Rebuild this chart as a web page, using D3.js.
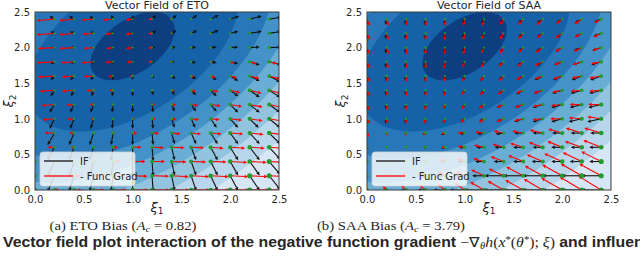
<!DOCTYPE html>
<html>
<head>
<meta charset="utf-8">
<script src="https://cdn.jsdelivr.net/npm/d3@7"></script>
<style>
body { margin: 0; background: #fff; }
svg { display: block; }
text { font-family: "DejaVu Sans", sans-serif; fill: #262626; }
</style>
</head>
<body>
<svg id="chart" width="640" height="265"></svg>
<script>
// grid of the quiver (rows listed from top to bottom)
var xValues = [0, 0.2, 0.4, 0.6, 0.8, 1.0, 1.2, 1.4, 1.6, 1.8, 2.0, 2.2, 2.4];
var yValues = [2.4, 2.2, 2.0, 1.8, 1.6, 1.4, 1.2, 1.0, 0.8, 0.6, 0.4, 0.2, 0.0];
var tickValues = [0, 0.5, 1.0, 1.5, 2.0, 2.5];

// ETO: - function gradient (u, v)
var etoGradU = [
  [-19,-18,-15,-12,-10,-7,-4,-2,-1,-1,-1,-1,-1],
  [-19,-18,-15,-11,-8,-7,-4,-1.5,-1,-1,-0.5,-0.5,-0.5],
  [-19,-17,-15,-10,-7,-7,-4,-1,-1,-1,0.5,0.5,1],
  [-19,-18,-13,-12,-8,-6,-4,-2,0.5,2,4,7,8],
  [-18,-17,-12,-10,-5,-3,-1,1,3,5,7,10,11],
  [-16,-15,-12,-7,-4,-1,1,3,5,8,10,12,12],
  [-14,-13,-8,-4,-1,1,3,5,7,10,12,13,13],
  [-13,-12,-7,-3,0.5,2,4,5,8,9,12,13,14],
  [-11,-10,-5,-1,2,5,7,9,10,11,13,14,14],
  [-8,-7,-3,0.5,5,9,12,13,13,13,15,15,15],
  [-4,-2,2,4,7,13,13,15,15,16,17,17,17],
  [0,3,6,9,12,15,17,17,18,18,18,18,18],
  [2,5,8,11,14,16,18,18,19,19,19,19,19]
];
var etoGradV = [
  [-1.5,-1.5,-1.5,-1,-1,-1,-0.5,0,0,0,0,0,0],
  [-1.5,-1.5,-1.5,-1,-1,-1,-0.5,0,-0.5,-0.5,-0.5,-0.5,-0.5],
  [-1,-1,-1,-1,-1,-1,-0.5,0,-1,-1,-1,-1,-1],
  [-1,-1,-1,-1,-0.5,-0.5,0,0,-0.5,-1,-1.5,-2,-2],
  [-1,-1,-1,-0.5,-0.5,0,0,-0.5,-1,-1.5,-2,-2.5,-3],
  [-1,-1,-1,-0.5,0,0,0,-0.5,-1,-1.5,-2.5,-3,-3],
  [-1,-1,-0.5,0,0,0,0,-0.5,-1,-1.5,-2,-2.5,-3],
  [-1,-1,-0.5,0,0,0,0,-0.5,-1,-1,-1.5,-2,-2.5],
  [0,0,0,0,0,-0.5,-0.5,-1,-1,-1,-1,-1.5,-1.5],
  [0,0,0,0,0,0,-0.5,-0.5,-0.5,-1,-1,-1,-1],
  [0,0,0,0,0,0,0,-0.5,-0.5,-0.5,-1,-1,-1],
  [0,0,0,0,0,-0.5,-0.5,-1,-1,-1,-1,-1,-1],
  [0,0,0,0,0,0,0,0,0,0,0,0,0]
];
// ETO: influence function (u, v)
var etoIfU = [
  [-6,-5,-5,-4,-2,0,4,5,6,8,9,12,12],
  [-5,-4,-4,-3,-1,1,4,5,6,8,8,12,12],
  [-4,-3,-3,-2,-1,1,3,4,5,6,8,10,12],
  [-4,-4,-3,-2,-1,0,2,3,5,6,8,10,12],
  [-4,-4,-4,-3,-1,0,2,4,5,6,8,10,11],
  [-5,-4,-3,-2,-1,0,1,3,5,6,8,10,11],
  [-6,-5,-4,-3,-1,0,1,3,5,6,8,10,11],
  [-6,-5,-4,-3,-1,0,1,3,4,6,8,9,11],
  [-7,-7,-5,-4,-2,0,1,3,5,7,8,10,11],
  [-7,-7,-5,-4,-2,0,1,3,5,7,8,10,11],
  [-7,-7,-5,-4,-2,0,1,3,5,7,8,10,11],
  [-7,-7,-5,-4,-2,0,1,3,5,7,8,10,11],
  [-7,-7,-5,-4,-2,0,1,3,5,7,8,10,11]
];
var etoIfV = [
  [3,3,3,3,4,4,4,4,4,4,3,3,2],
  [2,2,2,2,2,2,3,3,3,3,2,2,2],
  [0,0,0,0,0,0,0.5,0.5,0.5,0.5,0.5,0.5,0.5],
  [-2,-2,-2,-2,-2,-1,-0.5,-0.5,-1,-1,-2,-3,-3],
  [-4,-4,-4,-4,-4,-4,-2,-3,-3,-4,-5,-5,-6],
  [-6,-6,-6,-6,-6,-6,-5,-5,-5,-6,-6,-7,-7],
  [-8,-8,-8,-8,-8,-8,-8,-7,-7,-7,-8,-8,-8],
  [-10,-10,-10,-10,-10,-10,-10,-9,-9,-9,-9,-9,-9],
  [-12,-12,-12,-12,-12,-12,-12,-11,-11,-11,-11,-11,-11],
  [-13,-13,-13,-13,-14,-14,-14,-13,-13,-13,-13,-13,-12],
  [-15,-15,-15,-15,-15,-15,-15,-14,-14,-14,-14,-14,-13],
  [-16,-16,-16,-16,-16,-16,-16,-15,-15,-15,-15,-15,-14],
  [-17,-17,-17,-17,-17,-17,-17,-16,-16,-16,-16,-16,-15]
];
// SAA: - function gradient (u, v)
var saaGradU = [
  [3,2,1,0.5,0,-1,-2,-4,-5,-6,-6,-7,-7],
  [3,2,1,0,-0.5,-1,-3,-4,-5,-6,-7,-7,-8],
  [3,2,1,0,-0.5,-1,-3,-4,-5,-7,-7,-8,-9],
  [3,1.5,1,0,-1,-2,-3,-5,-6,-8,-8,-9,-10],
  [3,1,0.5,0,-1,-2,-4,-5,-7,-8,-9,-10,-12],
  [3,1,0.5,0,-1,-3,-4,-6,-7,-9,-10,-11,-12],
  [3,1,0,-0.5,-2,-3,-5,-7,-8,-10,-11,-12,-13],
  [3,1,0,-1,-2,-4,-5,-7,-9,-10,-12,-13,-14],
  [2,0.5,-1,-3,-4,-7,-9,-10,-11,-13,-14,-16,-17],
  [1,0,-1,-2,-4,-7,-10,-11,-13,-14,-15,-17,-18],
  [0,-1,-2,-3,-5,-8,-11,-13,-15,-16,-18,-19,-20],
  [-1,-2,-3,-5,-7,-9,-13,-15,-17,-18,-20,-21,-22],
  [-2,-4,-5,-6,-8,-10,-14,-16,-18,-19,-21,-22,-23]
];
var saaGradV = [
  [-7,-7,-7,-7,-7,-7,-7,-6,-6,-6,-5,-5,-4],
  [-7,-7,-7,-7,-7,-7,-6,-6,-6,-5,-5,-4,-4],
  [-7,-7,-7,-7,-7,-7,-6,-6,-5,-5,-4,-4,-3],
  [-7,-7,-7,-7,-7,-6,-6,-5,-5,-4,-3,-3,-2],
  [-6,-6,-6,-6,-6,-6,-5,-5,-4,-3,-3,-2,-2],
  [-6,-6,-6,-6,-6,-5,-5,-4,-3,-3,-2,-1,-1],
  [-6,-6,-6,-6,-5,-5,-4,-3,-3,-2,-1,0,0],
  [-5,-5,-5,-5,-5,-4,-4,-3,-2,-1,0,1,2],
  [-4,-3,-3,-2,-1,0,1,2,2,3,4,5,5],
  [-2,-1,0,0,0,1,2,3,4,5,6,6,7],
  [0,1,1,2,2,3,3,5,6,7,8,9,10],
  [1,2,3,3,4,4,6,7,9,10,11,12,12],
  [2,4,5,5,6,7,8,9,10,11,12,13,14]
];
// SAA: influence function (u, v)
var saaIfU = [
  [0,-1,-1,-1,-1,-2,-3,-4,-5,-6,-6,-7,-7],
  [0,-1,-1,-1,-1,-2,-3,-4,-5,-6,-6,-7,-8],
  [0,-1,-1,-1,-1,-2,-3,-4,-5,-7,-7,-8,-9],
  [0,-1,-1,-1,-1,-2,-3,-5,-6,-7,-8,-9,-10],
  [0,-1,-1,-1,-1,-2,-4,-5,-7,-8,-9,-10,-11],
  [0,-1,-1,-1,-2,-3,-4,-6,-7,-9,-10,-11,-12],
  [0,-1,-1,-1,-2,-3,-5,-7,-8,-10,-11,-12,-13],
  [0,-1,-1,-1,-2,-4,-5,-7,-9,-10,-11,-13,-14],
  [0,0,-1,-3,-4,-5,-7,-8,-9,-10,-10,-11,-11],
  [0,0,-1,-2,-4,-6,-8,-9,-10,-10,-11,-11,-12],
  [0,-1,-2,-3,-5,-7,-9,-10,-10,-11,-11,-12,-12],
  [-1,-2,-3,-5,-8,-10,-12,-19,-20,-20,-20,-20,-20],
  [-2,-3,-5,-8,-12,-15,-20,-20,-20,-20,-20,-20,-20]
];
var saaIfV = [
  [-6,-6,-6,-6,-6,-5,-5,-5,-4,-4,-4,-4,-3],
  [-6,-6,-6,-6,-6,-5,-5,-5,-4,-4,-4,-4,-3],
  [-6,-6,-6,-6,-6,-5,-5,-5,-4,-4,-4,-3,-3],
  [-6,-6,-6,-6,-6,-5,-5,-4,-4,-4,-3,-3,-3],
  [-6,-5,-5,-5,-5,-5,-5,-4,-4,-4,-4,-4,-4],
  [-6,-5,-5,-5,-5,-4,-4,-4,-4,-3,-3,-3,-3],
  [-6,-5,-5,-5,-5,-4,-4,-3,-3,-3,-3,-3,-3],
  [-5,-5,-5,-5,-5,-4,-3,-3,-3,-3,-3,-3,-3],
  [-3,-2,-2,-2,-2,-1,-1,-1,0,0,0,0,0],
  [-1,-1,-1,-1,-1,0,0,0,0,0,0,0,0],
  [0,0,0,0,0,0,0,0,0,0,0,0,0],
  [0,0,0,0,0,0,0,0,0,0,0,0,0],
  [0,0,0,0,0,0,0,0,0,0,0,0,0]
];

// background contour: nested ellipses (data units)
var contourCenter = [1.0, 2.02];
var contourAxisA = [0.405, 0.365];
var contourAxisB = [0.148, -0.311];
var contourLevels = [1.0, 2.5, 3.3, 4.0, 4.7, 5.4, 6.2];
var contourColors = ["#0c3e80", "#1662a8", "#2878b9", "#4492c8", "#6aaed6", "#92c4df", "#b9d7ec", "#d6e6f4"];

var titles = ["Vector Field of ETO", "Vector Field of SAA"];
var captionTags = ["(a) ETO Bias (", "(b) SAA Bias ("];
var captionValues = ["0.82", "3.79"];
var legendLabels = ["IF", "- Func Grad"];

var svg = d3.select("#chart");
var W = 244, H = 178, plotTop = 12;
var panelLeft = [35, 367];
var x = d3.scaleLinear().domain([0, 2.5]).range([0, W]);
var y = d3.scaleLinear().domain([0, 2.5]).range([H, 0]);

// level index of a point inside the ellipse family
function bandOf(px, py) {
  var dx = px - contourCenter[0], dy = py - contourCenter[1];
  var a = contourAxisA, b = contourAxisB;
  var det = a[0] * b[1] - b[0] * a[1];
  var al = (dx * b[1] - b[0] * dy) / det;
  var be = (a[0] * dy - a[1] * dx) / det;
  var k = Math.sqrt(al * al + be * be);
  return contourLevels.filter(function(l){ return l < k; }).length;
}

function ellipsePoints(k) {
  return d3.range(0, 361, 3).map(function(deg){
    var t = deg * Math.PI / 180;
    return [contourCenter[0] + k * (Math.cos(t) * contourAxisA[0] + Math.sin(t) * contourAxisB[0]),
            contourCenter[1] + k * (Math.cos(t) * contourAxisA[1] + Math.sin(t) * contourAxisB[1])];
  });
}
var line = d3.line().x(function(d){ return x(d[0]); }).y(function(d){ return y(d[1]); });

function toVectors(U, V) {
  var out = [];
  yValues.forEach(function(yy, r){
    xValues.forEach(function(xx, c){
      out.push({x: xx, y: yy, u: U[r][c], v: V[r][c]});
    });
  });
  return out;
}

function arrowParts(d) {
  var x0 = x(d.x), y0 = y(d.y);
  var dx = d.u, dy = -d.v;
  var len = Math.sqrt(dx * dx + dy * dy);
  if (len < 0.4) return null;
  var ux = dx / len, uy = dy / len;
  var hl = Math.min(3.6, len), hw = 1.7;
  var bx = x0 + dx - ux * hl, by = y0 + dy - uy * hl;
  return {x0: x0, y0: y0, bx: bx, by: by,
    head: [[x0 + dx, y0 + dy], [bx - uy * hw, by + ux * hw], [bx + uy * hw, by - ux * hw]]};
}

function drawQuiver(g, vecs, color) {
  var parts = vecs.map(arrowParts).filter(function(p){ return p; });
  var q = g.append("g");
  q.selectAll("line").data(parts).join("line")
    .attr("x1", function(p){ return p.x0; }).attr("y1", function(p){ return p.y0; })
    .attr("x2", function(p){ return p.bx; }).attr("y2", function(p){ return p.by; })
    .attr("stroke", color).attr("stroke-width", 1.1);
  q.selectAll("path").data(parts).join("path")
    .attr("d", function(p){ return "M" + p.head.join("L") + "Z"; })
    .attr("fill", color);
}

var fields = [
  {grad: toVectors(etoGradU, etoGradV), inf: toVectors(etoIfU, etoIfV)},
  {grad: toVectors(saaGradU, saaGradV), inf: toVectors(saaIfU, saaIfV)}
];

fields.forEach(function(f, p){
  var g = svg.append("g").attr("transform", "translate(" + panelLeft[p] + "," + plotTop + ")");
  var clipId = "clip" + p;
  g.append("clipPath").attr("id", clipId).append("rect").attr("width", W).attr("height", H);
  var body = g.append("g").attr("clip-path", "url(#" + clipId + ")");

  body.append("rect").attr("width", W).attr("height", H)
    .attr("fill", contourColors[contourLevels.length]);
  body.selectAll("path.band").data(contourLevels.slice().reverse()).join("path")
    .attr("class", "band")
    .attr("d", function(k){ return line(ellipsePoints(k)) + "Z"; })
    .attr("fill", function(k, i){ return contourColors[contourLevels.length - 1 - i]; });

  drawQuiver(body, f.inf, "#111");
  drawQuiver(body, f.grad, "#f00");

  body.selectAll("circle").data(f.grad).join("circle")
    .attr("cx", function(d){ return x(d.x); })
    .attr("cy", function(d){ return y(d.y); })
    .attr("r", function(d){ return 1.0 + 0.22 * bandOf(d.x, d.y); })
    .attr("fill", "#229a2e");

  // legend
  var lg = g.append("g").attr("transform", "translate(5,140)");
  lg.append("rect").attr("width", 95).attr("height", 34).attr("rx", 3)
    .attr("fill", "#fff").attr("fill-opacity", 0.8).attr("stroke", "#d0d0d0").attr("stroke-width", 0.8);
  lg.selectAll("line").data(legendLabels).join("line")
    .attr("x1", 4).attr("x2", 33)
    .attr("y1", function(d, i){ return 9 + i * 15; }).attr("y2", function(d, i){ return 9 + i * 15; })
    .attr("stroke", function(d, i){ return i ? "#f00" : "#111"; }).attr("stroke-width", 1.3);
  lg.selectAll("text").data(legendLabels).join("text")
    .attr("x", 40).attr("y", function(d, i){ return 12.5 + i * 15; })
    .attr("font-size", 10).text(function(d){ return d; });

  g.append("rect").attr("width", W).attr("height", H)
    .attr("fill", "none").attr("stroke", "#3a3a3a").attr("stroke-width", 1);

  var xa = g.append("g").attr("transform", "translate(0," + H + ")")
    .call(d3.axisBottom(x).tickValues(tickValues).tickFormat(d3.format(".1f")).tickSize(0).tickPadding(6));
  var ya = g.append("g")
    .call(d3.axisLeft(y).tickValues(tickValues).tickFormat(d3.format(".1f")).tickSize(0).tickPadding(5));
  [xa, ya].forEach(function(a){
    a.select(".domain").remove();
    a.selectAll("text").attr("font-size", 10).attr("fill", "#262626").style("font-family", "DejaVu Sans");
  });

  g.append("text").attr("x", W / 2).attr("y", -3.5).attr("text-anchor", "middle")
    .attr("font-size", 11).text(titles[p]);

  var xl = g.append("text").attr("x", W / 2).attr("y", H + 21.5).attr("text-anchor", "middle").attr("font-size", 13);
  xl.append("tspan").attr("font-style", "italic").text("ξ");
  xl.append("tspan").attr("font-size", 9).attr("dy", 2.5).text("1");

  var yl = g.append("text").attr("transform", "translate(-22," + (H / 2) + ") rotate(-90)")
    .attr("text-anchor", "middle").attr("font-size", 13);
  yl.append("tspan").attr("font-style", "italic").text("ξ");
  yl.append("tspan").attr("font-size", 9).attr("dy", 2.5).text("2");

  var capX = panelLeft[p] + [88, 24][p];
  var cap = svg.append("text").attr("transform", "translate(" + capX + ",229.5) scale(1.18,1)")
    .attr("text-anchor", "middle")
    .style("font-family", "'Liberation Serif', serif").attr("font-size", 12.5).attr("fill", "#000");
  cap.append("tspan").text(captionTags[p]);
  cap.append("tspan").attr("font-style", "italic").text("A");
  cap.append("tspan").attr("font-style", "italic").attr("font-size", 9).attr("dy", 2).text("c");
  cap.append("tspan").attr("dy", -2).text(" = " + captionValues[p] + ")");
});

var foot = svg.append("text").attr("transform", "translate(3,247) scale(1.13,1)")
  .attr("font-size", 14).attr("fill", "#000").style("font-family", "'Liberation Sans', sans-serif");
foot.append("tspan").attr("font-weight", "bold").text("Vector field plot interaction of the negative function gradient ");
var math = foot.append("tspan").style("font-family", "'Liberation Serif', serif").attr("font-size", 14);
math.append("tspan").text("−∇");
math.append("tspan").attr("font-style", "italic").attr("font-size", 9.5).attr("dy", 2).text("θ");
math.append("tspan").attr("font-style", "italic").attr("dy", -2).text("h");
math.append("tspan").text("(");
math.append("tspan").attr("font-style", "italic").text("x");
math.append("tspan").attr("font-size", 9.5).attr("dy", -4.5).text("*");
math.append("tspan").attr("dy", 4.5).text("(");
math.append("tspan").attr("font-style", "italic").text("θ");
math.append("tspan").attr("font-size", 9.5).attr("dy", -4.5).text("*");
math.append("tspan").attr("dy", 4.5).text("); ");
math.append("tspan").attr("font-style", "italic").text("ξ");
math.append("tspan").text(")");
foot.append("tspan").attr("font-weight", "bold").text(" and influence function");
</script>
</body>
</html>
